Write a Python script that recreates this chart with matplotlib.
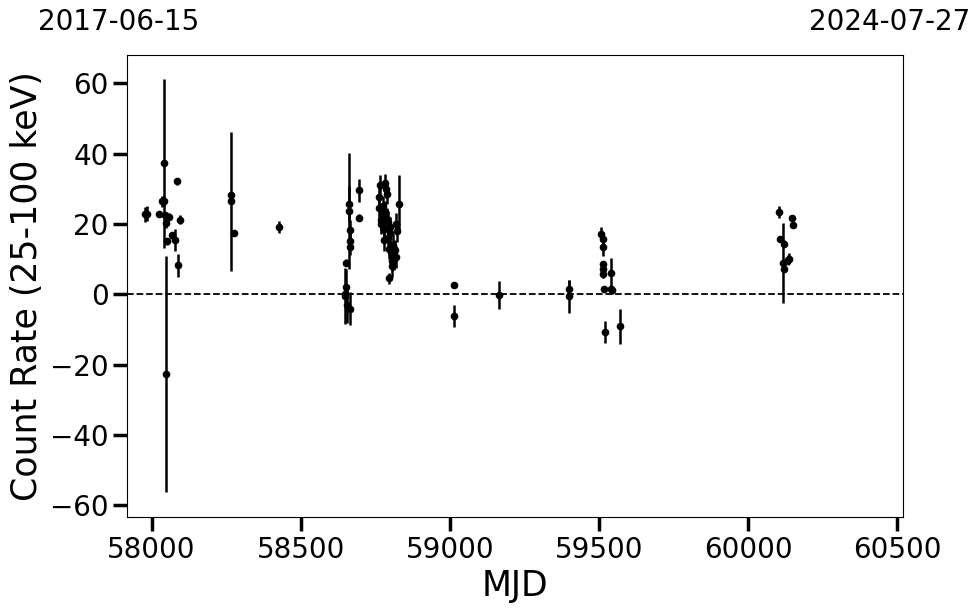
import numpy as np
import matplotlib
matplotlib.use('Agg')
import matplotlib.pyplot as plt

# MJD, count rate and error
mjd = [57977, 57986, 58024, 58035, 58041, 58041, 58045, 58047, 58048, 58052,
       58058, 58069, 58080, 58086, 58088, 58095,
       58265, 58266, 58277, 58428,
       58647, 58650, 58652, 58653, 58654, 58661, 58663, 58664, 58665, 58666, 58667,
       58695, 58695,
       58762, 58764, 58766, 58768, 58770, 58772, 58775, 58778, 58780, 58782,
       58784, 58786, 58788, 58790, 58792, 58794, 58795, 58797, 58799, 58801,
       58803, 58805, 58807, 58809, 58811, 58813, 58815, 58818, 58820, 58823, 58829,
       59015, 59015, 59164, 59398, 59398,
       59508, 59512, 59513, 59514, 59514, 59514, 59518, 59519, 59541, 59541, 59543, 59572,
       60105, 60106, 60118, 60119, 60122, 60133, 60136, 60148, 60152]
rate = [22.7, 22.9, 22.7, 26.4, 26.5, 37.2, 22.5, 20.2, -22.7, 15.1,
        22.0, 16.8, 15.5, 32.1, 8.2, 21.2,
        26.4, 28.1, 17.4, 19.0,
        -0.6, 0.2, 2.1, 8.9, -3.1, 25.8, 23.7, 18.2, 15.2, 13.3, -4.1,
        29.6, 21.8,
        27.7, 24.4, 31.0, 21.0, 20.0, 22.5, 25.0, 15.4, 18.5, 23.4,
        31.7, 30.0, 28.6, 21.5, 16.0, 20.6, 4.5, 13.0, 17.5, 19.0,
        12.0, 9.5, 8.0, 14.0, 11.1, 10.0, 12.5, 10.6, 20.0, 17.9, 25.8,
        2.6, -6.3, -0.3, 1.6, -0.6,
        17.2, 15.8, 13.3, 8.5, 7.3, 5.7, 1.6, -10.7, 5.9, 1.6, 1.2, -9.1,
        23.4, 15.8, 8.9, 7.3, 14.4, 9.7, 10.1, 21.7, 19.6]
err = [2.1, 2.1, 0.8, 1.5, 1.5, 24.0, 1.0, 1.5, 33.5, 1.0,
       1.0, 1.0, 3.1, 1.0, 3.2, 1.2,
       19.8, 1.0, 0.8, 1.7,
       8.0, 1.0, 5.0, 1.0, 5.0, 5.0, 16.5, 3.0, 3.0, 2.0, 4.6,
       3.3, 1.0,
       3.0, 3.0, 3.0, 3.0, 3.0, 3.0, 3.0, 3.0, 3.0, 3.0,
       2.5, 2.5, 3.0, 3.0, 3.0, 3.0, 1.5, 3.0, 3.0, 3.0,
       3.0, 3.0, 3.0, 3.0, 3.0, 3.0, 3.0, 3.0, 3.0, 3.0, 8.0,
       0.6, 3.1, 4.0, 2.5, 4.7,
       2.0, 1.5, 2.5, 1.0, 1.0, 1.0, 0.8, 3.1, 4.3, 1.0, 1.0, 5.0,
       1.8, 0.8, 11.5, 1.0, 1.0, 1.5, 1.5, 0.8, 0.8]

start_label = '2017-06-15'
end_label = '2024-07-27'
mjd_start, mjd_end = 57919, 60518

fig = plt.figure(figsize=(9.8, 6.13), dpi=100)
ax = fig.add_axes([0.130, 0.157, 0.791, 0.753])

ax.errorbar(mjd, rate, yerr=err, fmt='o', color='black', ms=4.5,
            elinewidth=1.8, capsize=0)
ax.axhline(0, color='black', ls='--', lw=1.3)

ax.set_xlim(mjd_start, mjd_end)
ax.set_ylim(-63.3, 68)
ax.set_xticks([58000, 58500, 59000, 59500, 60000, 60500])
ax.set_yticks([-60, -40, -20, 0, 20, 40, 60])
ax.tick_params(labelsize=20, length=10, width=2.5)
ax.set_xlabel('MJD', fontsize=25)
ax.set_ylabel('Count Rate (25-100 keV)', fontsize=25)

fig.text(38 / 980, 0.964, start_label, fontsize=20, ha='left', va='center')
fig.text(970 / 980, 0.964, end_label, fontsize=20, ha='right', va='center')

fig.savefig('out.png', dpi=100)
